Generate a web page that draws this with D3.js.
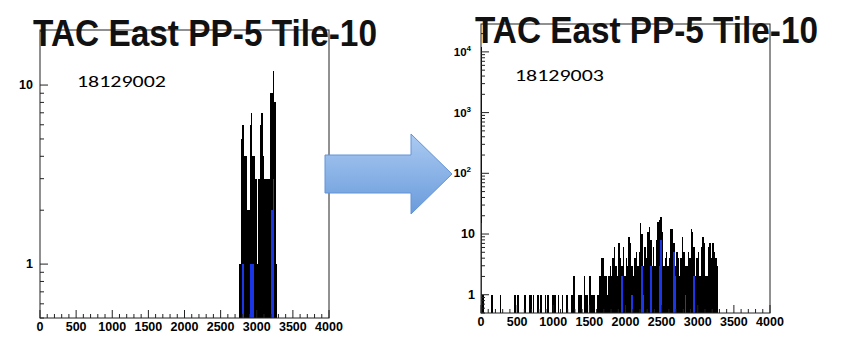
<!DOCTYPE html>
<html>
<head>
<meta charset="utf-8">
<script src="https://cdn.jsdelivr.net/npm/d3@7"></script>
<style>
  body { margin: 0; background: #fff; }
  svg { display: block; }
  text { font-family: "Liberation Sans", Arial, Helvetica, sans-serif; }
</style>
</head>
<body>
<svg id="chart"></svg>
<script>
// ---- data (bin lower edge, counts), 20-unit bins ----
let binWidth = 20
let xTicks = [0, 500, 1000, 1500, 2000, 2500, 3000, 3500, 4000]

let titleText = "TAC East PP-5 Tile-10"
let runLabels = ["18129002", "18129003"]

// run 18129002 - all hits
let run2Black = [
  [2760, 1], [2780, 5], [2800, 6], [2820, 4], [2840, 4], [2860, 2], [2880, 2],
  [2900, 6], [2920, 7], [2940, 4], [2960, 4], [2980, 3], [3000, 1], [3020, 3],
  [3040, 6], [3060, 7], [3080, 4], [3100, 3], [3120, 3], [3140, 3], [3160, 3],
  [3180, 9], [3200, 9], [3220, 12], [3240, 8], [3260, 1]
]
// run 18129002 - blue overlay
let run2Blue = [[2800, 1], [2900, 1], [2920, 1], [2940, 1], [3200, 2], [3220, 3]]

// run 18129003 - all hits
let run3Black = [
  [0, 12000], [20, 1], [140, 1], [260, 1], [460, 1], [500, 1], [600, 1], [660, 1],
  [680, 1], [720, 1], [780, 1], [820, 1], [880, 1], [920, 1], [980, 1], [1000, 1],
  [1020, 1], [1060, 1], [1120, 1], [1180, 1], [1240, 1], [1260, 1], [1280, 2],
  [1340, 1], [1360, 1], [1380, 1], [1420, 2], [1440, 1], [1460, 1], [1500, 2],
  [1520, 1], [1540, 1], [1560, 1], [1600, 1], [1620, 1],
  [1640, 2], [1660, 4], [1680, 4], [1700, 2], [1720, 2], [1740, 1], [1760, 2],
  [1780, 3], [1800, 2], [1820, 4], [1840, 6], [1860, 3], [1880, 2], [1900, 7],
  [1920, 4], [1940, 3], [1960, 6], [1980, 2], [2000, 4], [2020, 3], [2040, 9],
  [2060, 7], [2080, 3], [2100, 2], [2120, 4], [2140, 5], [2160, 3], [2180, 5],
  [2200, 15], [2220, 10], [2240, 3], [2260, 6], [2280, 4], [2300, 11], [2320, 13],
  [2340, 8], [2360, 3], [2380, 6], [2400, 3], [2420, 8], [2440, 16], [2460, 17],
  [2480, 19], [2500, 11], [2520, 3], [2540, 4], [2560, 5], [2580, 3], [2600, 4],
  [2620, 12], [2640, 12], [2660, 7], [2680, 3], [2700, 5], [2720, 4], [2740, 2],
  [2760, 4], [2780, 9], [2800, 5], [2820, 3], [2840, 3], [2860, 5], [2880, 4],
  [2900, 12], [2920, 11], [2940, 6], [2960, 2], [2980, 4], [3000, 5], [3020, 2],
  [3040, 6], [3060, 9], [3080, 7], [3100, 2], [3120, 2], [3140, 6], [3160, 7],
  [3180, 4], [3200, 7], [3220, 5], [3240, 4], [3260, 3]
]
// run 18129003 - blue overlay
let run3Blue = [
  [0, 15], [1940, 2], [2080, 1], [2220, 3], [2240, 1], [2340, 3], [2460, 3],
  [2480, 8], [2660, 5], [2680, 2], [2820, 1], [2940, 2]
]

// ---- layout ----
let width = 854
let height = 354

let panels = [
  { x0: 40, x1: 329, y0: 30, y1: 318, ymax: 20.3, majors: [1, 10],
    black: run2Black, blue: run2Blue, label: runLabels[0],
    labelX: 77, labelY: 87, titleX: 33, titleY: 46, titleW: 344, yLabX: 33 },
  { x0: 481, x1: 770, y0: 24, y1: 313, ymax: 28800, majors: [1, 10, 100, 1000, 10000],
    black: run3Black, blue: run3Blue, label: runLabels[1],
    labelX: 515, labelY: 81, titleX: 475, titleY: 43, titleW: 343, yLabX: 475 }
]

let svg = d3.select("#chart").attr("width", width).attr("height", height)

let defs = svg.append("defs")
let grad = defs.append("linearGradient").attr("id", "arrowGrad")
  .attr("x1", 0).attr("y1", 0).attr("x2", 0).attr("y2", 1)
grad.append("stop").attr("offset", "0%").attr("stop-color", "#abcaf2")
grad.append("stop").attr("offset", "100%").attr("stop-color", "#699bdb")

let drawPanel = (p) => {
  let g = svg.append("g")
  let xScale = d3.scaleLinear().domain([0, 4000]).range([p.x0, p.x1])
  let yScale = d3.scaleLog().domain([0.5, p.ymax]).range([p.y1, p.y0]).clamp(true)

  let drawHist = (data, color) => {
    g.append("g").attr("shape-rendering", "crispEdges")
      .selectAll("rect")
      .data(data)
      .enter()
      .append("rect")
      .attr("x", d => xScale(d[0]))
      .attr("width", d => xScale(d[0] + binWidth) - xScale(d[0]))
      .attr("y", d => yScale(d[1]))
      .attr("height", d => p.y1 - yScale(d[1]))
      .attr("fill", color)
  }
  drawHist(p.black, "#000")
  drawHist(p.blue, "#1a36e6")

  // frame
  g.append("rect")
    .attr("x", p.x0).attr("y", p.y0)
    .attr("width", p.x1 - p.x0).attr("height", p.y1 - p.y0)
    .attr("fill", "none").attr("stroke", "#222").attr("stroke-width", 1)

  // x axis ticks
  let xMinor = d3.range(0, 4001, 100)
  g.append("g").selectAll("line")
    .data(xMinor)
    .enter()
    .append("line")
    .attr("x1", d => xScale(d)).attr("x2", d => xScale(d))
    .attr("y1", p.y1)
    .attr("y2", d => p.y1 - (d % 500 === 0 ? 8 : 4))
    .attr("stroke", "#222")

  g.append("g").selectAll("text")
    .data(xTicks)
    .enter()
    .append("text")
    .attr("x", d => xScale(d))
    .attr("y", p.y1 + 13)
    .attr("text-anchor", "middle")
    .attr("font-size", 12.5)
    .attr("font-weight", "bold")
    .text(d => d)

  // y axis ticks (log)
  let yMinor = []
  for (let dec = 0.1; dec <= 10000; dec *= 10) {
    for (let k = 1; k <= 9; k++) {
      let v = +(dec * k).toPrecision(3)
      if (v >= 0.5 && v <= p.ymax) yMinor.push(v)
    }
  }
  g.append("g").selectAll("line")
    .data(yMinor)
    .enter()
    .append("line")
    .attr("x1", p.x0)
    .attr("x2", d => p.x0 + (p.majors.includes(d) ? 8 : 4))
    .attr("y1", d => yScale(d)).attr("y2", d => yScale(d))
    .attr("stroke", "#222")

  let yl = g.append("g").selectAll("text")
    .data(p.majors)
    .enter()
    .append("text")
    .attr("y", d => yScale(d) + 4)
    .attr("text-anchor", "end")
    .attr("font-weight", "bold")
  yl.each(function (d) {
    let t = d3.select(this)
    if (d <= 10) {
      t.attr("x", p.yLabX).attr("font-size", 12.5).text(d)
    } else {
      t.attr("x", p.yLabX - 4).attr("font-size", 11.5)
      t.append("tspan").text("10")
      t.append("tspan").attr("font-size", 8).attr("dy", -5).text(Math.round(Math.log10(d)))
    }
  })

  // title and run label
  svg.append("text")
    .attr("x", p.titleX).attr("y", p.titleY)
    .attr("font-size", 37).attr("font-weight", "bold")
    .attr("textLength", p.titleW).attr("lengthAdjust", "spacingAndGlyphs")
    .attr("fill", "#111")
    .text(titleText)

  svg.append("text")
    .attr("x", p.labelX).attr("y", p.labelY)
    .attr("font-size", 17)
    .attr("textLength", 89).attr("lengthAdjust", "spacingAndGlyphs")
    .style("font-family", "Carlito, Calibri, 'Open Sans', sans-serif")
    .text(p.label)
}

panels.forEach(drawPanel)

// arrow between the two runs
let arrowPts = [[325, 155], [411, 155], [411, 134], [452, 174], [411, 214], [411, 193], [325, 193]]
svg.append("path")
  .attr("d", d3.line()(arrowPts) + "Z")
  .attr("fill", "url(#arrowGrad)")
  .attr("stroke", "#6393d4")
  .attr("stroke-width", 1)
</script>
</body>
</html>
